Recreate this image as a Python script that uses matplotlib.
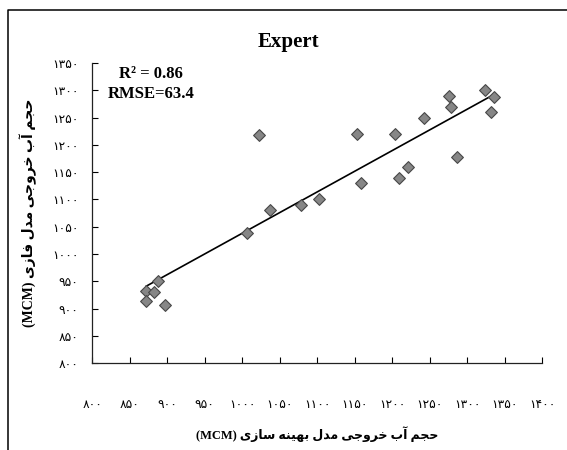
import matplotlib

matplotlib.use("Agg")
import matplotlib.pyplot as plt
from matplotlib.lines import Line2D
import numpy as np


# optimisation model output vs. fuzzy model output (MCM)
optimized = [1324, 1276, 1336, 1278, 1332, 1242, 1153, 1204, 1286, 1221, 1158,
             1209, 1102, 1078, 1037, 1006, 1022, 887, 872, 882, 872, 897]
fuzzy = [1301, 1290, 1288, 1269, 1260, 1249, 1220, 1220, 1178, 1159, 1130,
         1140, 1100, 1090, 1080, 1039, 1219, 951, 932, 930, 914, 907]

x_ticks = list(range(800, 1401, 50))
y_ticks = list(range(800, 1351, 50))

title = "Expert"
stats_text = "R\u00b2 = 0.86\nRMSE=63.4"
x_label_fa = "حجم آب خروجی مدل بهینه سازی"
y_label_fa = "حجم آب خروجی مدل فازی"
unit = "(MCM)"

# isolated, final, initial, medial presentation forms
FORMS = {
    "ا": ("\uFE8D", "\uFE8E", None, None),
    "آ": ("\uFE81", "\uFE82", None, None),
    "ب": ("\uFE8F", "\uFE90", "\uFE91", "\uFE92"),
    "ج": ("\uFE9D", "\uFE9E", "\uFE9F", "\uFEA0"),
    "ح": ("\uFEA1", "\uFEA2", "\uFEA3", "\uFEA4"),
    "خ": ("\uFEA5", "\uFEA6", "\uFEA7", "\uFEA8"),
    "د": ("\uFEA9", "\uFEAA", None, None),
    "ر": ("\uFEAD", "\uFEAE", None, None),
    "ز": ("\uFEAF", "\uFEB0", None, None),
    "س": ("\uFEB1", "\uFEB2", "\uFEB3", "\uFEB4"),
    "ف": ("\uFED1", "\uFED2", "\uFED3", "\uFED4"),
    "ل": ("\uFEDD", "\uFEDE", "\uFEDF", "\uFEE0"),
    "م": ("\uFEE1", "\uFEE2", "\uFEE3", "\uFEE4"),
    "ن": ("\uFEE5", "\uFEE6", "\uFEE7", "\uFEE8"),
    "ه": ("\uFEE9", "\uFEEA", "\uFEEB", "\uFEEC"),
    "و": ("\uFEED", "\uFEEE", None, None),
    "ی": ("\uFEEF", "\uFEF0", "\uFEF3", "\uFEF4"),
}

FA_DIGITS = str.maketrans("0123456789", "۰۱۲۳۴۵۶۷۸۹")


def shape_word(word):
    out = []
    for i, ch in enumerate(word):
        iso, fin, ini, med = FORMS[ch]
        prev_joins = i > 0 and FORMS[word[i - 1]][2] is not None
        next_joins = i < len(word) - 1 and ini is not None
        if prev_joins and next_joins:
            out.append(med)
        elif prev_joins:
            out.append(fin)
        elif next_joins:
            out.append(ini)
        else:
            out.append(iso)
    return "".join(out)


def rtl(text):
    # matplotlib lays text out left to right, so reverse into visual order
    return " ".join(shape_word(w)[::-1] for w in reversed(text.split()))


plt.rcParams["font.family"] = ["Liberation Serif", "DejaVu Sans"]

fig = plt.figure(figsize=(5.67, 4.5), dpi=100)
ax = fig.add_axes([0.1628, 0.1927, 0.7936, 0.6673])

ax.scatter(optimized, fuzzy, marker="D", s=36, facecolor="#868686",
           edgecolor="#484848", linewidth=0.8, zorder=3)

slope, intercept = np.polyfit(optimized, fuzzy, 1)
x_fit = np.array([min(optimized), max(optimized)])
ax.plot(x_fit, slope * x_fit + intercept, color="black", lw=1.2, zorder=2)

ax.set_xlim(x_ticks[0], x_ticks[-1])
ax.set_ylim(y_ticks[0], y_ticks[-1])
ax.set_xticks(x_ticks)
ax.set_yticks(y_ticks)
ax.set_xticklabels([str(v).translate(FA_DIGITS) for v in x_ticks],
                   family="DejaVu Sans", fontsize=8.8)
ax.set_yticklabels([str(v).translate(FA_DIGITS) for v in y_ticks],
                   family="DejaVu Sans", fontsize=8.8)
ax.tick_params(axis="x", direction="in", length=4, width=0.8, pad=25)
ax.tick_params(axis="y", direction="in", length=4, width=0.8, pad=10)

for side in ("top", "right"):
    ax.spines[side].set_visible(False)
for side in ("left", "bottom"):
    ax.spines[side].set_color("#222222")
    ax.spines[side].set_linewidth(0.9)

ax.set_xlabel(unit + " " + rtl(x_label_fa), fontsize=9, fontweight="bold",
              labelpad=11)
ax.set_ylabel(unit + " " + rtl(y_label_fa), fontsize=10, fontweight="bold",
              labelpad=11)

ax.text(0.13, 0.93, stats_text, transform=ax.transAxes, ha="center",
        va="center", fontsize=12, fontweight="bold", linespacing=1.4)

fig.text(0.508, 0.907, title, ha="center", va="center", fontsize=15,
         fontweight="bold")

# chart frame: top and left edges only
fig.add_artist(Line2D([0.0141, 0.0141, 1.0], [0.0, 0.978, 0.978],
                      transform=fig.transFigure, color="black", lw=1.1))

fig.savefig("out.png", dpi=100)
